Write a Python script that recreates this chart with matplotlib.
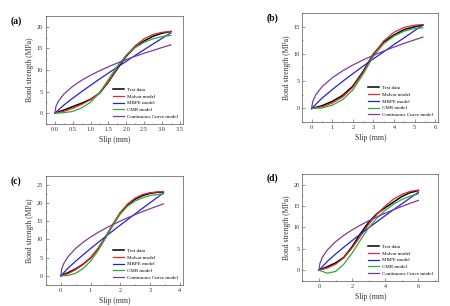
import matplotlib
matplotlib.use("Agg")
import matplotlib.pyplot as plt
from matplotlib.ticker import AutoMinorLocator

plt.rcParams["font.family"] = ["Liberation Serif", "DejaVu Serif"]

LABELS = ["Test data", "Malvar model", "MBPE model", "CMR model", "Continuous Curve model"]
COLORS = ["#000000", "#e8262c", "#2222cc", "#2fa83a", "#7d3c98"]

# panel (a)
slip_a = [0, 0.25, 0.5, 0.75, 1.0, 1.25, 1.5, 1.75, 2.0, 2.25, 2.5, 2.75, 3.0, 3.25]
test_a = [0, 0.7, 1.5, 2.3, 3.2, 4.6, 7.2, 10.3, 13.2, 15.3, 16.7, 17.8, 18.5, 18.9]
malvar_a = [0, 0.4, 1.1, 2.0, 3.1, 4.7, 7.3, 10.5, 13.4, 15.6, 17.2, 18.2, 18.7, 18.9]
mbpe_a = [0, 1.85, 3.45, 4.97, 6.44, 7.87, 9.27, 10.65, 12.0, 13.36, 14.69, 16.0, 17.3, 18.6]
cmr_a = [0, 0.1, 0.4, 1.2, 2.5, 4.7, 7.8, 10.9, 13.4, 15.2, 16.4, 17.2, 17.7, 18.0]
cc_slip_a = [0, 0.03, 0.1, 0.25, 0.5, 0.75, 1.0, 1.25, 1.5, 1.75, 2.0, 2.25, 2.5, 2.75, 3.0, 3.25]
cc_a = [0, 1.52, 2.77, 4.38, 6.2, 7.6, 8.76, 9.8, 10.73, 11.6, 12.4, 13.15, 13.86, 14.5, 15.18, 15.8]

# panel (b)
slip_b = [0, 0.5, 1.0, 1.5, 2.0, 2.5, 3.0, 3.5, 4.0, 4.5, 5.0, 5.4]
test_b = [0, 0.5, 1.3, 2.4, 4.1, 6.8, 10.0, 12.2, 13.5, 14.5, 15.0, 15.3]
malvar_b = [0, 0.3, 1.0, 2.1, 3.9, 6.6, 9.9, 12.4, 14.0, 14.9, 15.3, 15.4]
mbpe_b = [0, 1.89, 3.47, 4.96, 6.39, 7.77, 9.12, 10.4, 11.75, 13.0, 14.3, 15.3]
cmr_b = [0, 0.1, 0.6, 1.6, 3.4, 6.3, 9.6, 11.9, 13.3, 14.2, 14.7, 14.8]
cc_slip_b = [0, 0.05, 0.2, 0.5, 1.0, 1.5, 2.0, 2.5, 3.0, 3.5, 4.0, 4.5, 5.0, 5.4]
cc_b = [0, 1.26, 2.52, 3.99, 5.64, 6.9, 7.97, 8.91, 9.76, 10.55, 11.28, 11.96, 12.6, 13.1]

# panel (c)
slip_c = [0, 0.25, 0.5, 0.75, 1.0, 1.25, 1.5, 1.75, 2.0, 2.25, 2.5, 2.75, 3.0, 3.25, 3.45]
test_c = [0, 0.9, 1.9, 3.2, 4.9, 7.4, 10.5, 14.0, 17.3, 19.6, 21.1, 22.1, 22.7, 23.0, 23.1]
malvar_c = [0, 0.6, 1.7, 3.1, 4.9, 7.5, 10.7, 14.2, 17.4, 19.8, 21.4, 22.4, 22.9, 23.1, 23.2]
mbpe_c = [0, 2.15, 4.01, 5.78, 7.48, 9.14, 10.77, 12.38, 13.95, 15.5, 17.06, 18.6, 20.1, 21.6, 22.8]
cmr_c = [0, 0.1, 0.7, 2.0, 4.0, 6.9, 10.3, 13.9, 17.0, 19.2, 20.6, 21.5, 22.1, 22.4, 22.6]
cc_slip_c = [0, 0.03, 0.1, 0.25, 0.5, 0.75, 1.0, 1.25, 1.5, 1.75, 2.0, 2.25, 2.5, 2.75, 3.0, 3.25, 3.45]
cc_c = [0, 1.85, 3.37, 5.33, 7.54, 9.23, 10.66, 11.92, 13.06, 14.1, 15.07, 15.99, 16.85, 17.68, 18.46, 19.22, 19.8]

# panel (d)
slip_d = [0, 0.5, 1.0, 1.5, 2.0, 2.5, 3.0, 3.5, 4.0, 4.5, 5.0, 5.5, 6.0]
test_d = [0, 0.8, 1.7, 3.0, 5.5, 8.5, 11.2, 13.2, 14.6, 15.9, 17.2, 18.1, 18.6]
malvar_d = [0, 0.5, 1.4, 2.9, 5.2, 7.9, 10.7, 13.1, 15.0, 16.6, 17.7, 18.4, 18.7]
mbpe_d = [0, 2.04, 3.76, 5.37, 6.92, 8.43, 9.89, 11.33, 12.74, 14.13, 15.5, 16.86, 18.2]
cmr_d = [0, -0.7, -0.3, 1.4, 4.0, 7.0, 9.9, 12.2, 14.0, 15.4, 16.5, 17.3, 17.8]
cc_slip_d = [0, 0.05, 0.2, 0.5, 1.0, 1.5, 2.0, 2.5, 3.0, 3.5, 4.0, 4.5, 5.0, 5.5, 6.0]
cc_d = [0, 1.49, 2.98, 4.71, 6.65, 8.15, 9.41, 10.52, 11.53, 12.45, 13.31, 14.12, 14.88, 15.61, 16.3]

PANELS = [
    ("(a)", slip_a, [test_a, malvar_a, mbpe_a, cmr_a], cc_slip_a, cc_a,
     [0.102, 0.595, 0.304, 0.353], (-0.25, 3.58), (-2.5, 22.5),
     [0.0, 0.5, 1.0, 1.5, 2.0, 2.5, 3.0, 3.5], [0, 5, 10, 15, 20], "{:.1f}"),
    ("(b)", slip_b, [test_b, malvar_b, mbpe_b, cmr_b], cc_slip_b, cc_b,
     [0.672, 0.601, 0.302, 0.356], (-0.45, 6.15), (-2.5, 17.5),
     [0, 1, 2, 3, 4, 5, 6], [0, 5, 10, 15], "{:.0f}"),
    ("(c)", slip_c, [test_c, malvar_c, mbpe_c, cmr_c], cc_slip_c, cc_c,
     [0.102, 0.069, 0.304, 0.356], (-0.5, 4.1), (-2.5, 27.5),
     [0, 1, 2, 3, 4], [0, 5, 10, 15, 20, 25], "{:.0f}"),
    ("(d)", slip_d, [test_d, malvar_d, mbpe_d, cmr_d], cc_slip_d, cc_d,
     [0.672, 0.082, 0.302, 0.350], (-1.0, 7.2), (-2.5, 22.5),
     [0, 2, 4, 6], [0, 5, 10, 15, 20], "{:.0f}"),
]

fig = plt.figure(figsize=(4.5, 3.06), dpi=100)

for tag, slip, series, cc_slip, cc, rect, xlim, ylim, xt, yt, fmt in PANELS:
    ax = fig.add_axes(rect)
    for ys, lab, col in zip(series, LABELS[:4], COLORS[:4]):
        ax.plot(slip, ys, color=col, lw=1.1 if col == "#000000" else 0.9, label=lab)
    ax.plot(cc_slip, cc, color=COLORS[4], lw=0.9, label=LABELS[4])
    ax.set_xlim(*xlim)
    ax.set_ylim(*ylim)
    ax.set_xticks(xt)
    ax.set_xticklabels([fmt.format(v) for v in xt])
    ax.set_yticks(yt)
    ax.xaxis.set_minor_locator(AutoMinorLocator(2))
    ax.yaxis.set_minor_locator(AutoMinorLocator(2))
    ax.tick_params(which="both", direction="in", labelsize=4.5, width=0.4, pad=2,
                   colors="#444444", labelcolor="#333333")
    ax.tick_params(which="major", length=2)
    ax.tick_params(which="minor", length=1)
    for s in ax.spines.values():
        s.set_linewidth(0.5)
        s.set_color("#555555")
    ax.set_xlabel("Slip (mm)", fontsize=5.5, labelpad=3, color="#333333")
    ax.set_ylabel("Bond strength (MPa)", fontsize=5.5, labelpad=2, color="#333333")
    ax.legend(loc="lower right", fontsize=3.6, frameon=False, handlelength=2.2,
              handletextpad=0.6, labelspacing=0.45, borderaxespad=0.6)
    ax.text(-0.26, 1.0, tag, transform=ax.transAxes, fontsize=7, fontweight="bold",
            ha="left", va="top")

fig.savefig("out.png", dpi=100)
